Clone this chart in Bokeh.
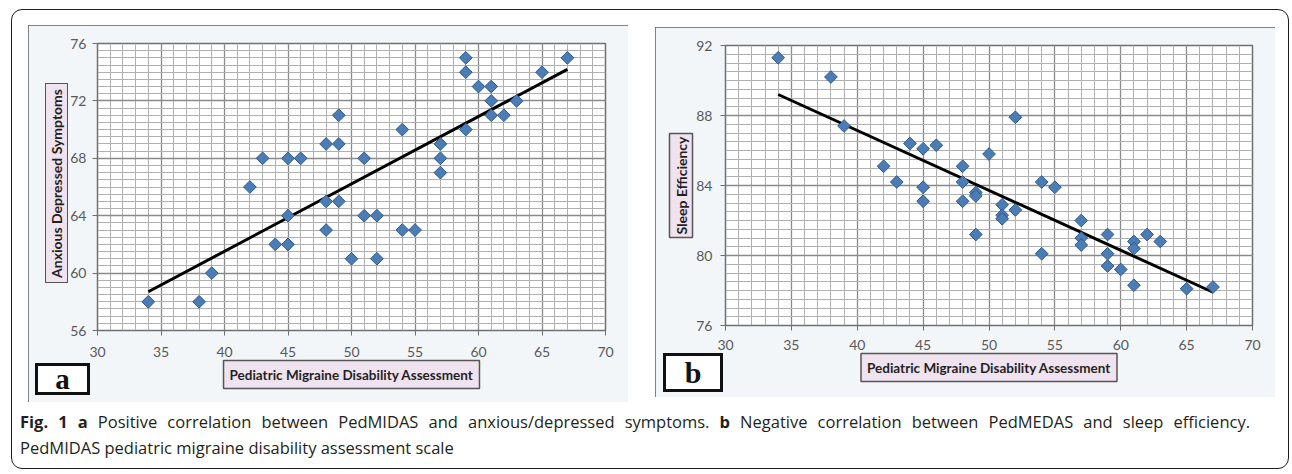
import math
from bokeh.plotting import figure
from bokeh.models import FixedTicker, Div, Range1d, Title
from bokeh.layouts import row, column
from bokeh.embed import file_html
from bokeh.resources import INLINE

# ---------------- data ----------------
# Panel a: PedMIDAS vs anxious/depressed symptoms
a_x = [34, 38, 39, 42, 43, 44, 45, 45, 45, 46, 48, 48, 48, 49, 49, 49, 50, 51, 51, 52,
       52, 54, 54, 55, 57, 57, 57, 59, 59, 59, 60, 61, 61, 61, 62, 63, 65, 67]
a_y = [58, 58, 60, 66, 68, 62, 62, 64, 68, 68, 69, 65, 63, 71, 69, 65, 61, 68, 64, 64,
       61, 70, 63, 63, 69, 68, 67, 75, 74, 70, 73, 73, 72, 71, 71, 72, 74, 75]
trend_a_x = [34, 67]
trend_a_y = [58.7, 74.2]

# Panel b: PedMIDAS vs sleep efficiency
b_x = [34, 38, 39, 42, 43, 44, 45, 45, 45, 46, 48, 48, 48, 49, 49, 49, 50, 51, 51, 51,
       52, 52, 54, 54, 55, 57, 57, 57, 59, 59, 59, 60, 61, 61, 61, 62, 63, 65, 67]
b_y = [91.3, 90.2, 87.4, 85.1, 84.2, 86.4, 86.1, 83.9, 83.1, 86.3, 85.1, 84.2, 83.1, 83.6,
       83.4, 81.2, 85.8, 82.9, 82.3, 82.1, 87.9, 82.6, 84.2, 80.1, 83.9, 82.0, 81.0, 80.6,
       81.2, 80.1, 79.4, 79.2, 80.8, 80.4, 78.3, 81.2, 80.8, 78.1, 78.2]
trend_b_x = [34, 67]
trend_b_y = [89.2, 77.9]

x_ticks = [30, 35, 40, 45, 50, 55, 60, 65, 70]
x_minor = list(range(30, 71))
a_y_ticks = [56, 60, 64, 68, 72, 76]
a_y_minor = [56 + 0.5 * i for i in range(41)]
b_y_ticks = [76, 80, 84, 88, 92]
b_y_minor = [76 + 0.5 * i for i in range(33)]

a_ytitle = "Anxious Depressed Symptoms"
b_ytitle = "Sleep Efficiency"
xtitle = "Pediatric Migraine Disability Assessment"

PANEL_BG = "#f3f6f9"
TICK_COLOR = "#595959"
MARK_FILL = "#4b7cb5"
MARK_LINE = "#2d5a8a"
TITLE_FILL = "#efe3ef"
TITLE_LINE = "#555555"


def make_panel(w, h, ml, mr, mt, mb, yr, xs, ys, tx, ty, yticks, yminor, xstand, ystand, margin):
    p = figure(width=w, height=h, x_range=Range1d(30, 70), y_range=Range1d(*yr),
               output_backend="svg", toolbar_location=None,
               min_border_left=ml, min_border_right=mr, min_border_top=mt, min_border_bottom=mb,
               background_fill_color="white", border_fill_color=PANEL_BG,
               outline_line_color="#6f6f6f", outline_line_width=1.5,
               margin=margin,
               styles={"outline": "2px solid #5c5c5c", "outline-offset": "-2px"})
    p.xaxis.ticker = FixedTicker(ticks=x_ticks, minor_ticks=x_minor)
    p.yaxis.ticker = FixedTicker(ticks=yticks, minor_ticks=yminor)
    for ax in (p.xaxis, p.yaxis):
        ax.axis_line_color = "#6f6f6f"
        ax.major_tick_line_color = "#6f6f6f"
        ax.major_tick_out = 5
        ax.major_tick_in = 0
        ax.minor_tick_out = 0
        ax.minor_tick_in = 0
        ax.major_label_text_font = "Lato"
        ax.major_label_text_font_size = "14px"
        ax.major_label_text_color = TICK_COLOR
    p.xaxis.major_label_standoff = xstand
    p.yaxis.major_label_standoff = ystand
    for g in (p.xgrid, p.ygrid):
        g.grid_line_color = "#8a8a8a"
        g.grid_line_width = 1.3
        g.minor_grid_line_color = "#b0b0b0"
        g.minor_grid_line_width = 1
    p.line(tx, ty, line_color="black", line_width=3)
    p.scatter(xs, ys, marker="square", angle=math.pi / 4, size=9,
              fill_color=MARK_FILL, line_color=MARK_LINE, line_width=1)
    return p


def side_title(p, text, side, size, pad, standoff=0, valign="middle"):
    t = Title(text=text, align="center", vertical_align=valign, standoff=standoff,
              text_font="Lato", text_font_size=size, text_font_style="bold",
              text_color="#1f1f1f", background_fill_color=TITLE_FILL,
              border_line_color=TITLE_LINE, border_line_width=1.5, padding=pad)
    p.add_layout(t, side)


# ---------------- panel a ----------------
fa = make_panel(600, 377, 69, 23, 17, 72, (56, 76), a_x, a_y, trend_a_x, trend_a_y,
                a_y_ticks, a_y_minor, 11, 6, (17, 0, 4, 18))
side_title(fa, xtitle, "below", "13.5px", 6)

# ---------------- panel b ----------------
fb = make_panel(620, 370, 70, 23, 18, 69, (76, 92), b_x, b_y, trend_b_x, trend_b_y,
                b_y_ticks, b_y_minor, 9, 8, (19, 15, 0, 27))
side_title(fb, xtitle, "below", "13.5px", 6)
side_title(fb, b_ytitle, "left", "14px", 3)

# ---------------- caption (+ panel letter boxes, vertical title of a) ----------------
CAP_X, CAP_Y = 10, 406


def letter_box(letter, x0, y0, w, h, size):
    return (f"<div style=\"position:absolute; left:{x0 - CAP_X}px; top:{y0 - CAP_Y}px; "
            f"width:{w}px; height:{h}px; box-sizing:border-box; border:3px solid #111; "
            f"background:#ffffff; font-family:'Liberation Serif'; font-weight:bold; "
            f"font-size:{size}px; line-height:{h - 6}px; text-align:center; color:#111; "
            f"z-index:20;\">{letter}</div>")


def vertical_title(text, x0, y0, w, h, size):
    return (f"<div style=\"position:absolute; left:{x0 - CAP_X}px; top:{y0 - CAP_Y}px; "
            f"width:{w}px; height:{h}px; box-sizing:border-box; border:1.5px solid {TITLE_LINE}; "
            f"background:{TITLE_FILL}; display:flex; align-items:center; justify-content:center; "
            f"z-index:20;\"><span style=\"writing-mode:vertical-rl; transform:rotate(180deg); "
            f"font-family:Lato; font-weight:bold; font-size:{size}px; color:#1f1f1f; "
            f"white-space:nowrap; line-height:1;\">{text}</span></div>")


caption_html = (
    "<div style=\"position:relative; width:1280px; height:64px;\">"
    + letter_box("a", 35, 363, 55, 32, 29)
    + letter_box("b", 663, 353, 60, 39, 30)
    + vertical_title(a_ytitle, 45, 83, 23, 200, 14)
    + "<div style=\"padding:3px 0 0 10px; font-family:'Open Sans'; font-size:16.5px; "
      "line-height:26px; color:#231f20;\">"
      "<div style=\"width:1230px; text-align:justify; text-align-last:justify; white-space:nowrap;\">"
      "<b>Fig. 1 a</b> Positive correlation between PedMIDAS and anxious/depressed symptoms. "
      "<b>b</b> Negative correlation between PedMEDAS and sleep efficiency.</div>"
      "<div>PedMIDAS pediatric migraine disability assessment scale</div></div></div>"
)
cap = Div(text=caption_html, width=1280, height=64, margin=(0, 0, 0, 0))

layout = column(row(fa, fb), cap, margin=(8, 0, 0, 10),
                styles={"outline": "1.5px solid #1e1e1e", "outline-offset": "-2px",
                        "border-radius": "12px"})

open("out.html", "w").write(file_html(layout, INLINE))
